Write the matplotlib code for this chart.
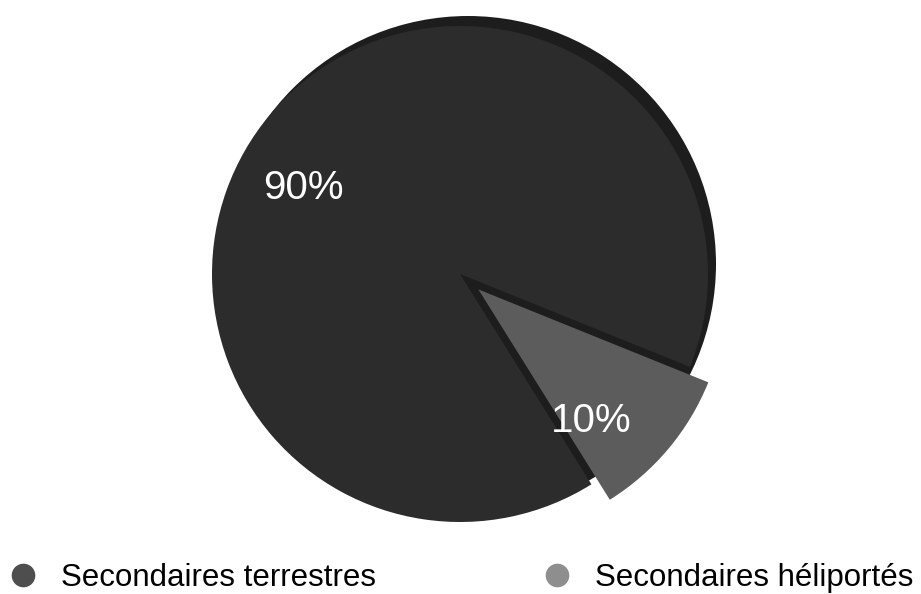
import matplotlib
matplotlib.use("Agg")
import matplotlib.pyplot as plt
from matplotlib.lines import Line2D
from matplotlib.patches import Circle

plt.rcParams['font.family'] = ['Liberation Sans', 'DejaVu Sans']

# Part des interventions secondaires
categories = ["Secondaires terrestres", "Secondaires héliportés"]
values = [90, 10]
slice_colors = ["#2c2c2c", "#5c5c5c"]
legend_colors = ["#4e4e4e", "#8e8e8e"]

fig = plt.figure(figsize=(9.21, 5.94), dpi=100)
ax = fig.add_axes([0, 0, 1, 1])

cx, cy, r = 460, 320, 248

# dark rim behind the pie to give it some depth
ax.add_patch(Circle((cx + 8, cy + 10), r, facecolor="#1d1d1d", edgecolor="none", zorder=0))

# explode is given in data units here (the axes are in pixels)
wedges, texts, autotexts = ax.pie(
    values,
    colors=slice_colors,
    startangle=-22,
    counterclock=True,
    explode=[0, 24],
    center=(cx, cy),
    radius=r,
    autopct="%d%%",
    textprops=dict(color="white", fontsize=29),
    wedgeprops=dict(linewidth=0),
    frame=True,
)
autotexts[0].set_position((303, 406))
autotexts[1].set_position((591, 173))

ax.set_xlim(0, 921)
ax.set_ylim(0, 594)
ax.set_aspect("equal")
ax.axis("off")

handles = [Line2D([], [], marker="o", linestyle="none", markersize=16,
                  markerfacecolor=c, markeredgecolor=c) for c in legend_colors]
fig.legend(handles, categories, loc="lower left", bbox_to_anchor=(7 / 921, 1 / 594),
           ncol=2, frameon=False, fontsize=22.5, handlelength=1.0,
           handletextpad=0.72, columnspacing=5.3, borderaxespad=0, borderpad=0)

fig.savefig("out.png", dpi=100, facecolor="white")
